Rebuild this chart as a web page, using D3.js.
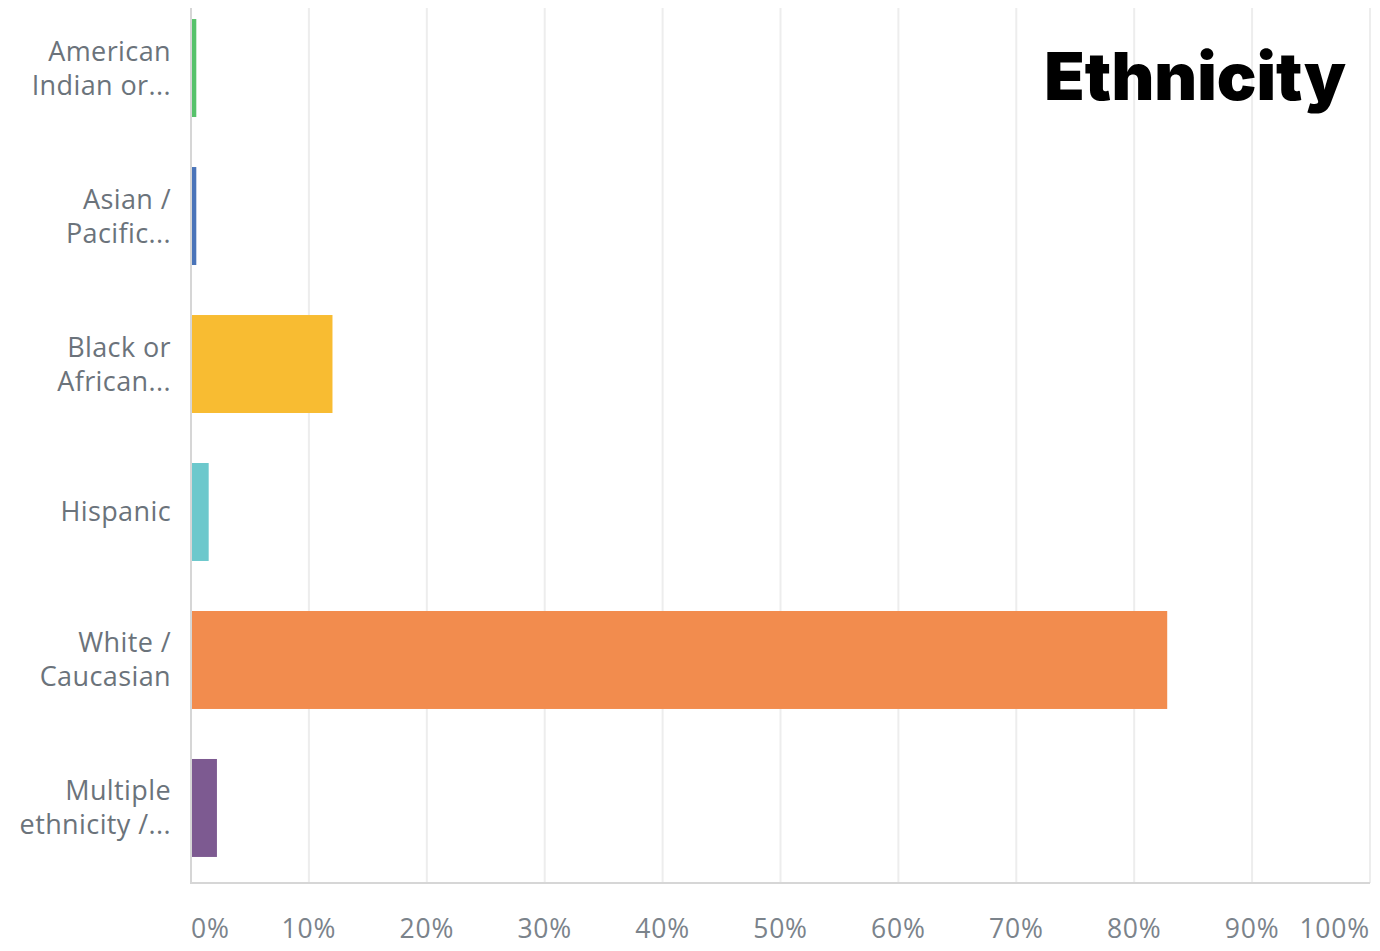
<!DOCTYPE html>
<html><head><meta charset="utf-8">
<script src="https://cdn.jsdelivr.net/npm/d3@7"></script>
<style>html,body{margin:0;padding:0;background:#fff;}</style>
</head><body>
<svg id="c" width="1380" height="951"></svg>
<script>
const categories = [
  ["American", "Indian or..."],
  ["Asian /", "Pacific..."],
  ["Black or", "African..."],
  ["Hispanic"],
  ["White /", "Caucasian"],
  ["Multiple", "ethnicity /..."]
];
const values = [0.45, 0.45, 12.0, 1.5, 82.8, 2.2];
const colors = ["#57c26b", "#4a74b9", "#f8bc32", "#6cc8cc", "#f28c4e", "#7d5a91"];
const tickValues = [0,10,20,30,40,50,60,70,80,90,100];
const tickLabels = ["0%","10%","20%","30%","40%","50%","60%","70%","80%","90%","100%"];
const title = "Ethnicity";

const svg = d3.select("#c");
const x = d3.scaleLinear().domain([0,100]).range([191,1370]);
const ids = categories.map((d,i)=>i);
const y = d3.scaleBand().domain(ids).range([-7,883]).paddingInner(0.338).paddingOuter(0.176);

// gridlines
svg.append("g").selectAll("line").data(tickValues.slice(1)).join("line")
  .attr("x1",d=>x(d)).attr("x2",d=>x(d)).attr("y1",8).attr("y2",883)
  .attr("stroke","#ededed").attr("stroke-width",2);

// bars
svg.append("g").selectAll("rect").data(values).join("rect")
  .attr("x",x(0)+1).attr("y",(d,i)=>y(i)).attr("height",y.bandwidth())
  .attr("width",d=>x(d)-x(0)-1).attr("fill",(d,i)=>colors[i]);

// axes lines
svg.append("line").attr("x1",x(0)).attr("x2",x(0)).attr("y1",8).attr("y2",884)
  .attr("stroke","#d6d6d6").attr("stroke-width",2);
svg.append("line").attr("x1",x(0)-1).attr("x2",x(100)).attr("y1",883).attr("y2",883)
  .attr("stroke","#d6d6d6").attr("stroke-width",2);

// x tick labels
svg.append("g").selectAll("text").data(tickValues).join("text")
  .attr("x",d=>x(d)).attr("y",938)
  .attr("text-anchor",(d,i)=> i===0 ? "start" : (i===tickValues.length-1 ? "end" : "middle"))
  .attr("font-family","Open Sans, sans-serif").attr("font-size",26.5)
  .attr("letter-spacing",0.8)
  .attr("fill","#7b838b")
  .text((d,i)=>tickLabels[i]);

// y labels
const lg = svg.append("g");
categories.forEach((lines,i)=>{
  const cy = y(i) + y.bandwidth()/2;
  const n = lines.length;
  lines.forEach((t,j)=>{
    lg.append("text").attr("x",171).attr("y", cy + (j - (n-1)/2)*34 + 9.5)
      .attr("text-anchor","end")
      .attr("font-family","Open Sans, sans-serif").attr("font-size",27)
      .attr("letter-spacing",0.4)
      .attr("fill","#6b737b").text(t);
  });
});

// title
svg.append("text").attr("x",1346).attr("y",100).attr("text-anchor","end")
  .attr("font-family","Inter, sans-serif").attr("font-weight",900).attr("font-size",66)
  .attr("fill","#000").text(title);
</script>
</body></html>
